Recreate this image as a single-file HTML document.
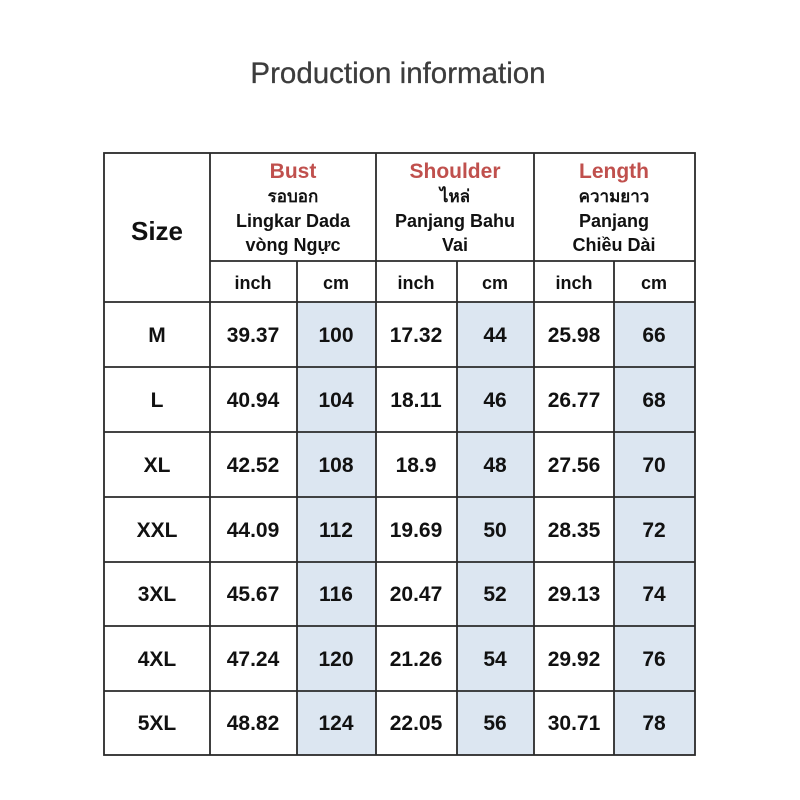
<!DOCTYPE html>
<html>
<head>
<meta charset="utf-8">
<style>
  html,body{margin:0;padding:0;background:#fff;}
  body{width:800px;height:800px;overflow:hidden;}
  svg{display:block;}
  text{font-family:"Liberation Sans","DejaVu Sans","Noto Sans CJK SC",sans-serif;}
</style>
</head>
<body>
<svg width="800" height="800" viewBox="0 0 800 800" xmlns="http://www.w3.org/2000/svg">
  <rect width="800" height="800" fill="#fff"/>
  <text x="398" y="83" text-anchor="middle" font-size="29.5" fill="#3c3c3c" stroke="#3c3c3c" stroke-width="0.3">Production information</text>

  <!-- shading -->
  <g fill="#dce6f1">
    <rect x="297" y="302" width="79" height="453"/>
    <rect x="457" y="302" width="77" height="453"/>
    <rect x="614" y="302" width="81" height="453"/>
  </g>

  <!-- grid lines -->
  <g stroke="#2a2a2a" stroke-width="1.8" fill="none">
    <rect x="104" y="153" width="591" height="602"/>
    <line x1="210" y1="153" x2="210" y2="755"/>
    <line x1="376" y1="153" x2="376" y2="755"/>
    <line x1="534" y1="153" x2="534" y2="755"/>
    <line x1="297" y1="261" x2="297" y2="755"/>
    <line x1="457" y1="261" x2="457" y2="755"/>
    <line x1="614" y1="261" x2="614" y2="755"/>
    <line x1="210" y1="261" x2="695" y2="261"/>
    <line x1="104" y1="302" x2="695" y2="302"/>
    <line x1="104" y1="367" x2="695" y2="367"/>
    <line x1="104" y1="432" x2="695" y2="432"/>
    <line x1="104" y1="497" x2="695" y2="497"/>
    <line x1="104" y1="562" x2="695" y2="562"/>
    <line x1="104" y1="626" x2="695" y2="626"/>
    <line x1="104" y1="691" x2="695" y2="691"/>
  </g>

  <!-- header -->
  <g text-anchor="middle" font-weight="bold">
    <text x="157" y="240" font-size="26" fill="#111">Size</text>

    <text x="293" y="178" font-size="21" fill="#c0504d">Bust</text>
    <text x="293" y="202" font-size="17" fill="#111" font-family="'Liberation Sans','Noto Sans Thai','Loma','Garuda',sans-serif">รอบอก</text>
    <text x="293" y="227" font-size="18" fill="#111">Lingkar Dada</text>
    <text x="293" y="251" font-size="18" fill="#111">vòng Ngực</text>

    <text x="455" y="178" font-size="21" fill="#c0504d">Shoulder</text>
    <text x="455" y="202" font-size="17" fill="#111" font-family="'Liberation Sans','Noto Sans Thai','Loma','Garuda',sans-serif">ไหล่</text>
    <text x="455" y="227" font-size="18" fill="#111">Panjang Bahu</text>
    <text x="455" y="251" font-size="18" fill="#111">Vai</text>

    <text x="614" y="178" font-size="21" fill="#c0504d">Length</text>
    <text x="614" y="202" font-size="17" fill="#111" font-family="'Liberation Sans','Noto Sans Thai','Loma','Garuda',sans-serif">ความยาว</text>
    <text x="614" y="227" font-size="18" fill="#111">Panjang</text>
    <text x="614" y="251" font-size="18" fill="#111">Chiều Dài</text>

    <g font-size="18" fill="#111">
      <text x="253" y="289">inch</text>
      <text x="336" y="289">cm</text>
      <text x="416" y="289">inch</text>
      <text x="495" y="289">cm</text>
      <text x="574" y="289">inch</text>
      <text x="654" y="289">cm</text>
    </g>
  </g>

  <!-- body -->
  <g text-anchor="middle" font-weight="bold" font-size="21" fill="#111">
    <g>
      <text x="157" y="342">M</text><text x="253" y="342">39.37</text><text x="336" y="342">100</text><text x="416" y="342">17.32</text><text x="495" y="342">44</text><text x="574" y="342">25.98</text><text x="654" y="342">66</text>
    </g>
    <g>
      <text x="157" y="407">L</text><text x="253" y="407">40.94</text><text x="336" y="407">104</text><text x="416" y="407">18.11</text><text x="495" y="407">46</text><text x="574" y="407">26.77</text><text x="654" y="407">68</text>
    </g>
    <g>
      <text x="157" y="472">XL</text><text x="253" y="472">42.52</text><text x="336" y="472">108</text><text x="416" y="472">18.9</text><text x="495" y="472">48</text><text x="574" y="472">27.56</text><text x="654" y="472">70</text>
    </g>
    <g>
      <text x="157" y="537">XXL</text><text x="253" y="537">44.09</text><text x="336" y="537">112</text><text x="416" y="537">19.69</text><text x="495" y="537">50</text><text x="574" y="537">28.35</text><text x="654" y="537">72</text>
    </g>
    <g>
      <text x="157" y="601">3XL</text><text x="253" y="601">45.67</text><text x="336" y="601">116</text><text x="416" y="601">20.47</text><text x="495" y="601">52</text><text x="574" y="601">29.13</text><text x="654" y="601">74</text>
    </g>
    <g>
      <text x="157" y="666">4XL</text><text x="253" y="666">47.24</text><text x="336" y="666">120</text><text x="416" y="666">21.26</text><text x="495" y="666">54</text><text x="574" y="666">29.92</text><text x="654" y="666">76</text>
    </g>
    <g>
      <text x="157" y="730">5XL</text><text x="253" y="730">48.82</text><text x="336" y="730">124</text><text x="416" y="730">22.05</text><text x="495" y="730">56</text><text x="574" y="730">30.71</text><text x="654" y="730">78</text>
    </g>
  </g>
</svg>
</body>
</html>
